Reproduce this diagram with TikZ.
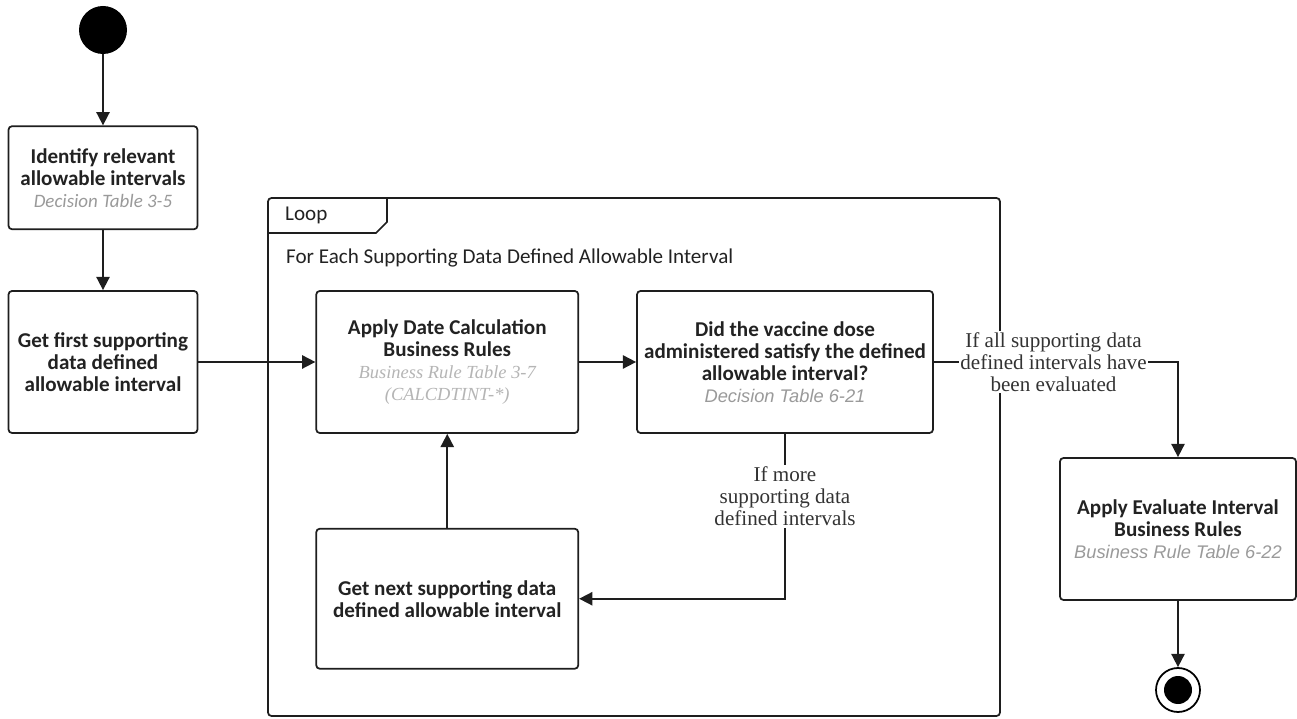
\documentclass[tikz,border=0pt]{standalone}
\usepackage{fontspec}
\setmainfont{Carlito}
\newfontfamily\arialfont{Liberation Sans}
\newfontfamily\timesfont{Liberation Serif}
\usetikzlibrary{arrows.meta,positioning}
\definecolor{cline}{HTML}{1E1E1E}
\definecolor{ctext}{HTML}{222222}
\definecolor{cnote}{HTML}{9A9A9A}
\definecolor{cnotelight}{HTML}{B5B5B5}
\definecolor{cguard}{HTML}{333333}

\begin{document}
\begin{tikzpicture}[
    >={Triangle[length=7.5pt,width=7.5pt]},
    font=\fontsize{12}{12.5}\selectfont,
    flow/.style={->,line width=1pt,cline},
    action/.style={
        draw=cline, line width=1pt, rounded corners=2pt, fill=white,
        minimum height=2.84cm, align=center, text=ctext, inner sep=1pt,
    },
    guard/.style={font=\timesfont\fontsize{12}{12.5}\selectfont,text=cguard,
        fill=white, align=center, inner sep=1pt},
]
\useasboundingbox (0,0) rectangle (25.94,-14.38);

% ============================================================
% START / FIRST STEPS
% ============================================================
\node[circle, fill=black, minimum size=0.96cm, inner sep=0pt] (start) at (2.06,-0.60) {};

\node[action, minimum width=3.78cm, minimum height=2.06cm,
    below=1.42cm of start] (identify) {
    \textbf{Identify relevant}\\\textbf{allowable intervals}\\
    {\fontsize{10.8}{12.5}\selectfont\itshape\color{cnote}Decision Table 3-5}
};
\draw[flow] (start) -- (identify);

\node[action, minimum width=3.78cm, below=1.20cm of identify] (first) {
    \textbf{Get first supporting}\\\textbf{data defined}\\\textbf{allowable interval}
};
\draw[flow] (identify) -- (first);

% ============================================================
% LOOP FRAGMENT
% ============================================================
\draw[line width=1pt, cline, rounded corners=2pt]
    (5.36,-3.96) rectangle (20.0,-14.32);
\draw[line width=1pt, cline]
    (5.36,-4.66) -- (7.52,-4.66) -- (7.74,-4.44) -- (7.74,-3.96);
\node[anchor=west, text=ctext] (looplabel) at (5.58,-4.30) {Loop};
\node[anchor=west, text=ctext] (loopcond) at (5.60,-5.16)
    {For Each Supporting Data Defined Allowable Interval};

\node[action, minimum width=5.24cm, right=2.34cm of first] (apply) {
    \textbf{Apply Date Calculation}\\\textbf{Business Rules}\\
    {\timesfont\fontsize{10.5}{11}\selectfont\itshape\color{cnotelight}Business Rule Table 3-7}\\
    {\timesfont\fontsize{10.5}{11}\selectfont\itshape\color{cnotelight}(CALCDTINT-*)}
};
\draw[flow] (first) -- (apply);

\node[action, minimum width=5.92cm, right=1.14cm of apply] (satisfy) {
    \textbf{Did the vaccine dose}\\\textbf{administered satisfy the defined}\\
    \textbf{allowable interval?}\\
    {\arialfont\fontsize{10.4}{12}\selectfont\itshape\color{cnote}Decision Table 6-21}
};
\draw[flow] (apply) -- (satisfy);

\node[action, minimum width=5.24cm, minimum height=2.80cm,
    below=1.88cm of apply] (next) {
    \textbf{Get next supporting data}\\\textbf{defined allowable interval}
};
\draw[flow] (next) -- (apply);

\coordinate (morecorner) at (satisfy.south |- next.east);
\draw[flow] (satisfy.south) -- (morecorner)
    node[guard, pos=0.38] {If more\\supporting data\\defined intervals}
    -- (next.east);

% ============================================================
% EVALUATE / END
% ============================================================
\node[action, minimum width=4.72cm] (evaluate) at (23.56,-10.58) {
    \textbf{Apply Evaluate Interval}\\\textbf{Business Rules}\\
    {\arialfont\fontsize{10.4}{12}\selectfont\itshape\color{cnote}Business Rule Table 6-22}
};

\coordinate (allcorner) at (evaluate.north |- satisfy.east);
\draw[flow] (satisfy.east) -- (allcorner)
    node[guard, pos=0.49] {If all supporting data\\defined intervals have\\been evaluated}
    -- (evaluate.north);

\node[circle, draw=black, line width=1pt, fill=white,
    minimum size=0.88cm, inner sep=0pt] (finish) at (23.56,-13.80) {};
\fill[black] (finish.center) circle (0.28cm);
\draw[flow] (evaluate) -- (finish);

\end{tikzpicture}
\end{document}
